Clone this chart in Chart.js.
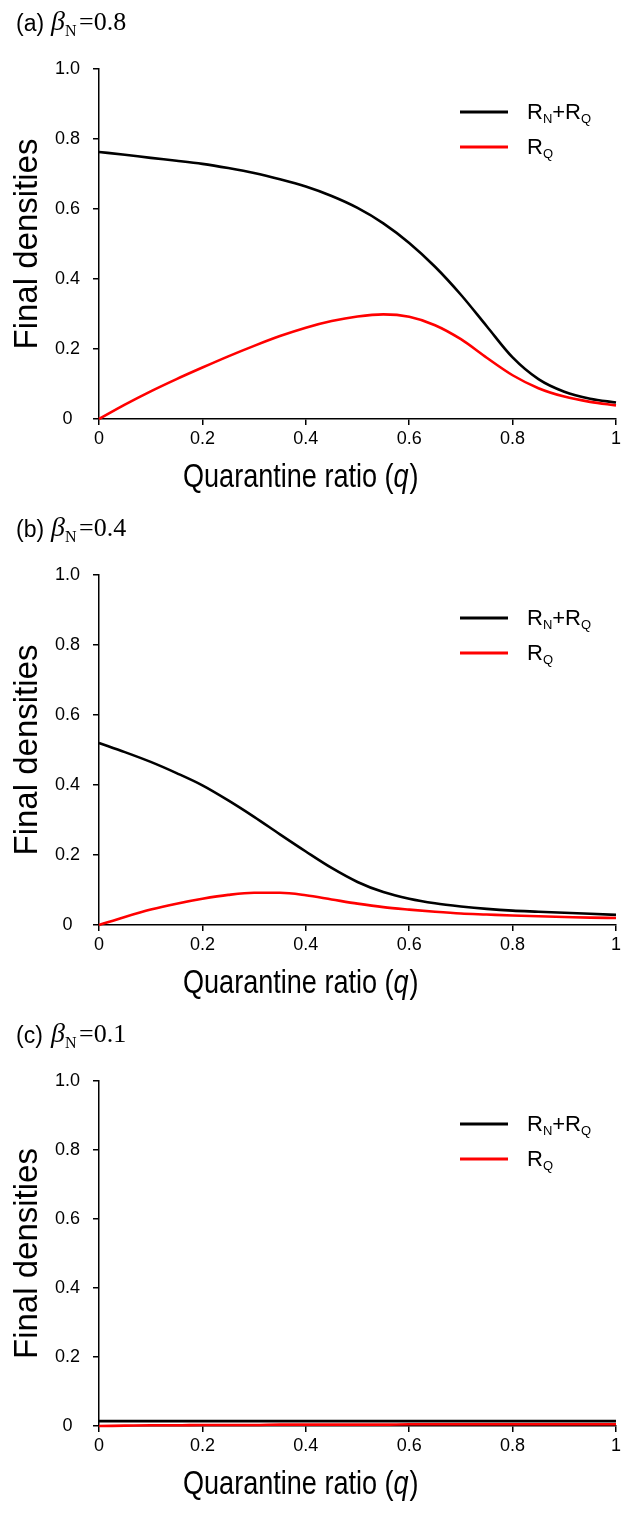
<!DOCTYPE html>
<html>
<head>
<meta charset="utf-8">
<title>Final densities vs quarantine ratio</title>
<script src="https://cdn.jsdelivr.net/npm/chart.js@4.4.1/dist/chart.umd.min.js"></script>
<style>
  body { margin: 0; background: #fff; }
  .panel { width: 624px; }
  canvas { display: block; }
</style>
</head>
<body>
<div class="panel"><canvas id="chartA" width="624" height="506"></canvas></div>
<div class="panel"><canvas id="chartB" width="624" height="506"></canvas></div>
<div class="panel"><canvas id="chartC" width="624" height="501"></canvas></div>
<script>
// quarantine ratio q, every 0.05
const qValues = [0, 0.05, 0.1, 0.15, 0.2, 0.25, 0.3, 0.35, 0.4, 0.45, 0.5,
                 0.55, 0.6, 0.65, 0.7, 0.75, 0.8, 0.85, 0.9, 0.95, 1];

// (a) beta_N = 0.8
const totalA = [0.763, 0.755, 0.746, 0.738, 0.729, 0.717, 0.703, 0.685, 0.664, 0.637, 0.603,
                0.559, 0.503, 0.435, 0.355, 0.265, 0.176, 0.114, 0.078, 0.058, 0.047];
const quarA  = [0, 0.041, 0.079, 0.114, 0.147, 0.179, 0.209, 0.237, 0.261, 0.280, 0.293,
                0.299, 0.292, 0.268, 0.228, 0.175, 0.125, 0.088, 0.064, 0.049, 0.039];

// (b) beta_N = 0.4
const totalB = [0.520, 0.494, 0.466, 0.434, 0.399, 0.356, 0.309, 0.259, 0.210, 0.163, 0.123,
                0.094, 0.075, 0.062, 0.053, 0.046, 0.041, 0.038, 0.035, 0.032, 0.029];
const quarB  = [0, 0.023, 0.044, 0.061, 0.075, 0.086, 0.092, 0.092, 0.085, 0.073, 0.061,
                0.051, 0.044, 0.038, 0.033, 0.030, 0.027, 0.025, 0.023, 0.021, 0.020];

// (c) beta_N = 0.1
const totalC = [0.014, 0.014, 0.014, 0.014, 0.014, 0.014, 0.014, 0.014, 0.014, 0.014, 0.014,
                0.014, 0.014, 0.014, 0.014, 0.014, 0.014, 0.014, 0.014, 0.014, 0.014];
const quarC  = [0, 0.001, 0.002, 0.002, 0.003, 0.003, 0.003, 0.004, 0.004, 0.004, 0.004,
                0.004, 0.005, 0.005, 0.005, 0.005, 0.005, 0.005, 0.005, 0.005, 0.005];

const xTicks = [0, 0.2, 0.4, 0.6, 0.8, 1];
const yTicks = [0, 0.2, 0.4, 0.6, 0.8, 1.0];
const panelLabels = ['(a)', '(b)', '(c)'];
const betaValues = ['0.8', '0.4', '0.1'];

const SANS = '"Liberation Sans", Arial, sans-serif';
const SERIF = '"Liberation Serif", "Times New Roman", serif';

// text drawn in a narrow face (original figure uses Arial Narrow)
function narrowText(ctx, text, x, y, font) {
    ctx.save();
    ctx.font = font;
    ctx.translate(x, y);
    ctx.scale(0.82, 1);
    ctx.fillText(text, 0, 0);
    const w = ctx.measureText(text).width * 0.82;
    ctx.restore();
    return w;
}

// subscripted label like R_N+R_Q, parts = [[text, isSub], ...]
function subText(ctx, parts, x, y) {
    for (const p of parts) {
        ctx.font = p[1] ? '13px ' + SANS : '22px ' + SANS;
        ctx.fillText(p[0], x, p[1] ? y + 4 : y);
        x += ctx.measureText(p[0]).width;
    }
}

const figureText = {
    id: 'figureText',
    afterDraw(chart, args, opts) {
        const ctx = chart.ctx;
        const area = chart.chartArea;
        ctx.save();
        ctx.fillStyle = '#000';
        ctx.textAlign = 'left';
        ctx.textBaseline = 'alphabetic';

        // panel label: (a) beta_N=0.8
        ctx.font = '23px ' + SANS;
        ctx.fillText(opts.label, 16, 31);
        ctx.font = 'italic 28px ' + SERIF;
        ctx.fillText('\u03B2', 51, 30);
        ctx.font = '16px ' + SERIF;
        ctx.fillText('N', 65, 36);
        ctx.font = '26px ' + SERIF;
        ctx.fillText('=' + opts.beta, 79, 30);

        // x axis title
        let x = 183;
        const by = area.bottom + 68;
        x += narrowText(ctx, 'Quarantine ratio (', x, by, '33px ' + SANS);
        x += narrowText(ctx, 'q', x, by, 'italic 33px ' + SANS);
        narrowText(ctx, ')', x + 1, by, '33px ' + SANS);

        // y axis title
        ctx.save();
        ctx.translate(37, (area.top + area.bottom) / 2);
        ctx.rotate(-Math.PI / 2);
        ctx.textAlign = 'center';
        ctx.font = '33px ' + SANS;
        ctx.fillText('Final densities', 0, 0);
        ctx.restore();

        // legend
        const ly1 = area.top + 43;
        const ly2 = area.top + 78;
        ctx.lineWidth = 3;
        ctx.strokeStyle = '#000';
        ctx.beginPath(); ctx.moveTo(460, ly1); ctx.lineTo(508, ly1); ctx.stroke();
        ctx.strokeStyle = '#ff0000';
        ctx.beginPath(); ctx.moveTo(460, ly2); ctx.lineTo(508, ly2); ctx.stroke();
        subText(ctx, [['R', false], ['N', true], ['+R', false], ['Q', true]], 527, ly1 + 7);
        subText(ctx, [['R', false], ['Q', true]], 527, ly2 + 7);

        ctx.restore();
    }
};

function points(arr) {
    return qValues.map((q, i) => ({ x: q, y: arr[i] }));
}

function drawPanel(id, total, quar, idx) {
    const ctx = document.getElementById(id).getContext('2d');
    const axisGrid = {
        display: true,
        drawOnChartArea: false,
        drawTicks: true,
        tickLength: 6,
        color: '#000',
        lineWidth: 1.5
    };
    return new Chart(ctx, {
        type: 'line',
        data: {
            datasets: [
                {
                    label: 'RN+RQ',
                    data: points(total),
                    borderColor: '#000000',
                    borderWidth: 2.6,
                    pointRadius: 0,
                    cubicInterpolationMode: 'monotone',
                    fill: false,
                    clip: false,
                    order: 2
                },
                {
                    label: 'RQ',
                    data: points(quar),
                    borderColor: '#ff0000',
                    borderWidth: 2.6,
                    pointRadius: 0,
                    cubicInterpolationMode: 'monotone',
                    fill: false,
                    clip: false,
                    order: 1
                }
            ]
        },
        options: {
            responsive: false,
            animation: false,
            events: [],
            layout: { padding: { top: 69, right: 4, left: 0, bottom: 0 } },
            plugins: {
                legend: { display: false },
                tooltip: { enabled: false },
                figureText: { label: panelLabels[idx], beta: betaValues[idx] }
            },
            scales: {
                x: {
                    type: 'linear',
                    min: 0,
                    max: 1,
                    grid: axisGrid,
                    border: { display: true, color: '#000', width: 1.5 },
                    afterBuildTicks: s => { s.ticks = xTicks.map(v => ({ value: v })); },
                    afterFit: s => { s.height = 87; },
                    ticks: {
                        color: '#000',
                        padding: 3,
                        maxRotation: 0,
                        font: { family: SANS, size: 18 },
                        callback: v => (v === 0 || v === 1) ? String(v) : v.toFixed(1)
                    }
                },
                y: {
                    type: 'linear',
                    min: 0,
                    max: 1,
                    grid: axisGrid,
                    border: { display: true, color: '#000', width: 1.5 },
                    afterBuildTicks: s => { s.ticks = yTicks.map(v => ({ value: v })); },
                    afterFit: s => { s.width = 99; },
                    ticks: {
                        color: '#000',
                        padding: 13,
                        crossAlign: 'center',
                        font: { family: SANS, size: 18 },
                        callback: v => v === 0 ? '0' : v.toFixed(1)
                    }
                }
            }
        },
        plugins: [figureText]
    });
}

drawPanel('chartA', totalA, quarA, 0);
drawPanel('chartB', totalB, quarB, 1);
drawPanel('chartC', totalC, quarC, 2);
</script>
</body>
</html>
